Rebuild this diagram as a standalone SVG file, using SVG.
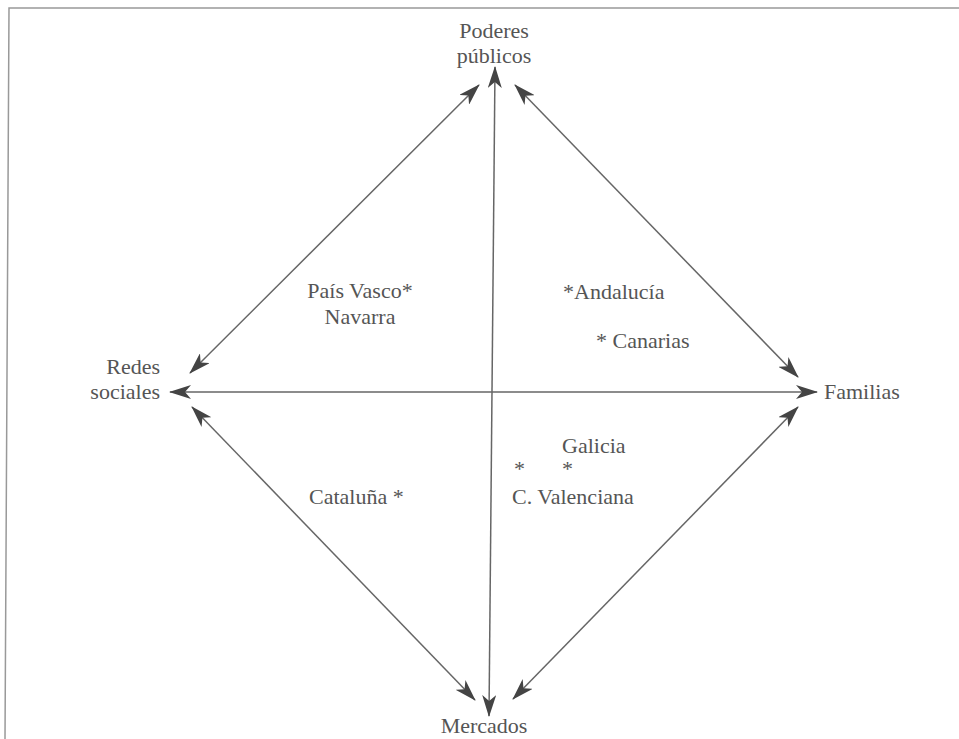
<svg xmlns="http://www.w3.org/2000/svg" width="959" height="739" viewBox="0 0 959 739">
<style>
text{font-family:'Liberation Serif','Times New Roman','DejaVu Serif',serif;font-size:22px;fill:#555;}
.c line{stroke:#666;stroke-width:1.5;fill:none;marker-start:url(#ah);marker-end:url(#ah);}
.frame{stroke:#999;stroke-width:1.5;fill:none;}
</style>
<defs>
<marker id="ah" viewBox="0 0 22 14" refX="21" refY="7" markerWidth="22" markerHeight="14" markerUnits="userSpaceOnUse" orient="auto-start-reverse">
<path d="M0,0 L22,7 L0,14 L6,7 Z" fill="#444"/>
</marker>
</defs>
<rect width="959" height="739" fill="#fff"/>
<path class="frame" d="M5,739 L9,8 L959,8"/>
<g class="c" id="connectors">
<line x1="495" y1="67" x2="489" y2="716"/>
<line x1="170" y1="392" x2="817" y2="392"/>
<line x1="190" y1="373" x2="479" y2="85"/>
<line x1="515" y1="85" x2="798" y2="377"/>
<line x1="192" y1="407" x2="475" y2="700"/>
<line x1="513" y1="699" x2="798" y2="407"/>
</g>
<g id="poderes"><text x="494" y="38" text-anchor="middle" font-family="Liberation Serif, serif">Poderes</text><text x="494" y="63" text-anchor="middle" font-family="Liberation Serif, serif">públicos</text></g>
<g id="redes"><text x="160" y="374" text-anchor="end" font-family="Liberation Serif, serif">Redes</text><text x="160" y="399" text-anchor="end" font-family="Liberation Serif, serif">sociales</text></g>
<g id="familias"><text x="824" y="399" font-family="Liberation Serif, serif">Familias</text></g>
<g id="mercados"><text x="484" y="733" text-anchor="middle" font-family="Liberation Serif, serif">Mercados</text></g>
<g id="paisvasco"><text x="360" y="298" text-anchor="middle" font-family="Liberation Serif, serif">País Vasco*</text><text x="360" y="324" text-anchor="middle" font-family="Liberation Serif, serif">Navarra</text></g>
<g id="andalucia"><text x="563" y="299" font-family="Liberation Serif, serif">*Andalucía</text></g>
<g id="canarias"><text x="596" y="348" font-family="Liberation Serif, serif">* Canarias</text></g>
<g id="galicia"><text x="562" y="453" font-family="Liberation Serif, serif">Galicia</text><text x="514" y="476" font-family="Liberation Serif, serif">*</text><text x="562" y="476" font-family="Liberation Serif, serif">*</text></g>
<g id="valenciana"><text x="512" y="504" font-family="Liberation Serif, serif">C. Valenciana</text></g>
<g id="cataluna"><text x="309" y="504" font-family="Liberation Serif, serif">Cataluña *</text></g>
</svg>
